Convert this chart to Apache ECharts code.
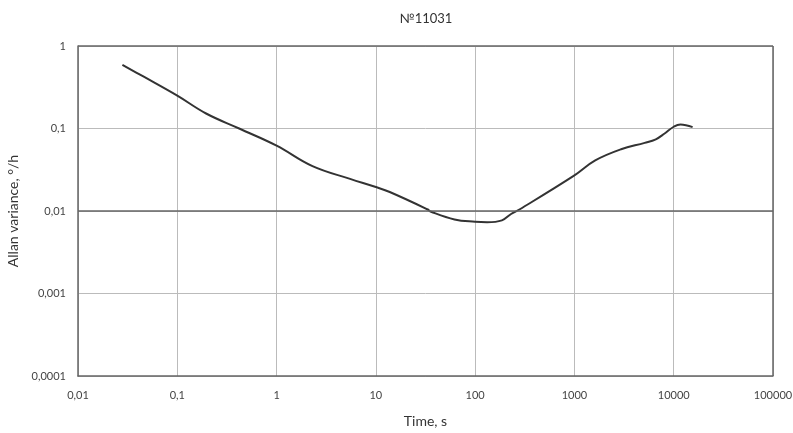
<!DOCTYPE html>
<html>
<head>
<meta charset="utf-8">
<style>
    html, body { margin: 0; padding: 0; background: #fff; }
    #chart { width: 793px; height: 433px; }
</style>
<script src="https://cdn.jsdelivr.net/npm/echarts@6/dist/echarts.min.js"></script>
</head>
<body>
<div id="chart"></div>
<script>
// averaging time, s
const times = [0.028, 0.045, 0.1, 0.195, 0.42, 1, 2.3, 5.5, 10, 13.8, 33, 36, 62, 100, 132, 186, 230, 282,
    1000, 1620, 2950, 5100, 6600, 8100, 10000, 11700, 15500]
// Allan variance, deg/h
const allan = [0.59, 0.43, 0.25, 0.152, 0.1, 0.062, 0.035, 0.0245, 0.0195, 0.017, 0.0105, 0.0098, 0.0079, 0.0074, 0.0073, 0.0077, 0.0092, 0.0105,
    0.027, 0.041, 0.056, 0.067, 0.074, 0.087, 0.105, 0.112, 0.104]

const fmtDecade = v => {
    const e = Math.round(Math.log10(v))
    if (e < 0) return '0,' + '0'.repeat(-e - 1) + '1'
    return '1' + '0'.repeat(e)
}

const chart = echarts.init(document.getElementById('chart'))
const font = 'Lato, "Open Sans", sans-serif'

chart.setOption({
    animation: false,
    textStyle: { fontFamily: font },
    title: {
        text: '№11031',
        left: 421,
        textAlign: 'center',
        top: 7,
        textStyle: { fontSize: 13, fontWeight: 'normal', color: '#333', fontFamily: font }
    },
    grid: { left: 78, right: 20, top: 46, bottom: 57, outerBoundsMode: 'none' },
    xAxis: {
        type: 'log',
        logBase: 10,
        min: 0.01,
        max: 100000,
        name: 'Time, s',
        nameLocation: 'middle',
        nameGap: 38,
        nameTextStyle: { fontSize: 14, color: '#333' },
        axisLine: { show: true, lineStyle: { color: '#666', width: 1.5 } },
        axisTick: { show: false },
        axisLabel: { fontSize: 11, color: '#444', margin: 14, formatter: fmtDecade },
        splitLine: { show: true, lineStyle: { color: '#bbb', width: 1 } }
    },
    yAxis: {
        type: 'log',
        logBase: 10,
        min: 0.0001,
        max: 1,
        name: 'Allan variance, °/h',
        nameLocation: 'middle',
        nameGap: 47,
        nameTextStyle: { fontSize: 14, color: '#333' },
        axisLine: { show: true, lineStyle: { color: '#666', width: 1.5 } },
        axisTick: { show: false },
        axisLabel: { fontSize: 11, color: '#444', margin: 12, formatter: fmtDecade },
        splitLine: { show: true, lineStyle: { color: '#bbb', width: 1 } }
    },
    series: [
        {
            type: 'line',
            data: times.map((t, i) => [t, allan[i]]),
            smooth: 0.4,
            symbol: 'none',
            lineStyle: { color: '#333', width: 2 },
            markLine: {
                silent: true,
                symbol: 'none',
                label: { show: false },
                lineStyle: { color: '#666', width: 1.5, type: 'solid' },
                data: [{ yAxis: 0.01 }]
            }
        },
        {
            // frame on top and right
            type: 'line',
            data: [],
            markLine: {
                silent: true,
                symbol: 'none',
                label: { show: false },
                lineStyle: { color: '#666', width: 1.5, type: 'solid' },
                data: [{ yAxis: 1 }, { xAxis: 100000 }]
            }
        }
    ]
})
</script>
</body>
</html>
